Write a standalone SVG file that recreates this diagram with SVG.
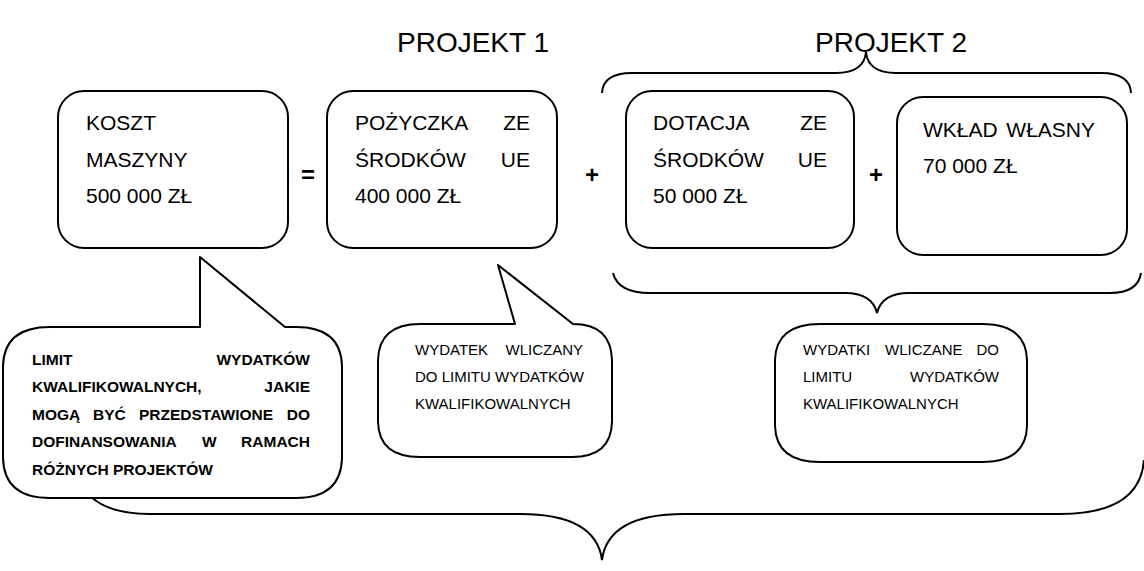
<svg xmlns="http://www.w3.org/2000/svg" width="1144" height="571" viewBox="0 0 1144 571">
<style>
.shape{fill:#fff;stroke:#000;stroke-width:2;stroke-linejoin:round}
.brace{fill:none;stroke:#000;stroke-width:2}
text{font-family:"Liberation Sans",Arial,sans-serif;fill:#000}
.bx{font-size:21px}
.op{font-size:24px;font-weight:bold;text-anchor:middle}
.ttl{font-size:28px}
.c1{font-size:15.5px;font-weight:bold}
.c2{font-size:15px}
.e{text-anchor:end}
</style>
<rect width="1144" height="571" fill="#fff"/>
<g id="titles">
<text class="ttl" x="397" y="52">PROJEKT 1</text>
<text class="ttl" x="815" y="52">PROJEKT 2</text>
</g>
<g id="connectors">
<path class="brace" d="M602,93 Q603,73 632,73 L836,73 Q864,73 866,52 Q868,73 896,73 L1101,73 Q1130,73 1131,93"/>
<path class="brace" d="M613,273 Q618,293 650,293 L845,293 Q872,293 877,313 Q882,293 909,293 L1110,293 Q1138,293 1141,273"/>
<path class="brace" d="M78,478 Q92,514 150,514 L520,514 Q596,514 602,560 Q608,514 684,514 L1060,514 Q1140,514 1144,460"/>
</g>
<g id="box1">
<rect class="shape" x="58" y="91" width="230" height="157" rx="26"/>
<text class="bx" x="86" y="130">KOSZT</text>
<text class="bx" x="86" y="167">MASZYNY</text>
<text class="bx" x="86" y="203">500 000 ZŁ</text>
</g>
<g id="op1"><text class="op" x="308" y="183">=</text></g>
<g id="box2">
<rect class="shape" x="327" y="91" width="230" height="157" rx="26"/>
<text class="bx" x="355" y="130">POŻYCZKA</text><text class="bx e" x="530" y="130">ZE</text>
<text class="bx" x="355" y="167">ŚRODKÓW</text><text class="bx e" x="530" y="167">UE</text>
<text class="bx" x="355" y="203">400 000 ZŁ</text>
</g>
<g id="op2"><text class="op" x="592" y="183">+</text></g>
<g id="box3">
<rect class="shape" x="626" y="91" width="228" height="157" rx="26"/>
<text class="bx" x="653" y="130">DOTACJA</text><text class="bx e" x="827" y="130">ZE</text>
<text class="bx" x="653" y="167">ŚRODKÓW</text><text class="bx e" x="827" y="167">UE</text>
<text class="bx" x="653" y="203">50 000 ZŁ</text>
</g>
<g id="op3"><text class="op" x="876" y="183">+</text></g>
<g id="box4">
<rect class="shape" x="897" y="97" width="230" height="158" rx="26"/>
<text class="bx" x="923" y="137">WKŁAD</text><text class="bx e" x="1095" y="137">WŁASNY</text>
<text class="bx" x="923" y="173">70 000 ZŁ</text>
</g>
<g id="callout1">
<path class="shape" d="M3,366 Q4,327 50,327 L200,327 L200,257 L285,327 L296,327 Q341,327 342,366 L342,458 Q341,498 296,498 L50,498 Q4,498 3,458 Z"/>
<text class="c1" x="32" y="365">LIMIT</text><text class="c1 e" x="310" y="365">WYDATKÓW</text>
<text class="c1" x="32" y="392">KWALIFIKOWALNYCH,</text><text class="c1 e" x="310" y="392">JAKIE</text>
<text class="c1" x="32" y="420">MOGĄ</text><text class="c1" x="93" y="420">BYĆ</text><text class="c1" x="139" y="420">PRZEDSTAWIONE</text><text class="c1 e" x="310" y="420">DO</text>
<text class="c1" x="32" y="447">DOFINANSOWANIA</text><text class="c1" x="202" y="447">W</text><text class="c1 e" x="310" y="447">RAMACH</text>
<text class="c1" x="32" y="475">RÓŻNYCH PROJEKTÓW</text>
</g>
<g id="callout2">
<path class="shape" d="M378,360 Q379,324 420,324 L515,324 L498,265 L573,324 Q611,324 612,360 L612,422 Q611,457 572,457 L420,457 Q379,457 378,422 Z"/>
<text class="c2" x="415" y="355">WYDATEK</text><text class="c2 e" x="583" y="355">WLICZANY</text>
<text class="c2" x="415" y="382">DO LIMITU WYDATKÓW</text>
<text class="c2" x="415" y="409">KWALIFIKOWALNYCH</text>
</g>
<g id="callout3">
<path class="shape" d="M775,360 Q776,324 820,324 L982,324 Q1026,324 1027,360 L1027,426 Q1026,462 982,462 L820,462 Q776,462 775,426 Z"/>
<text class="c2" x="803" y="355">WYDATKI</text><text class="c2" x="885" y="355">WLICZANE</text><text class="c2 e" x="999" y="355">DO</text>
<text class="c2" x="803" y="382">LIMITU</text><text class="c2 e" x="999" y="382">WYDATKÓW</text>
<text class="c2" x="803" y="409">KWALIFIKOWALNYCH</text>
</g>
</svg>
